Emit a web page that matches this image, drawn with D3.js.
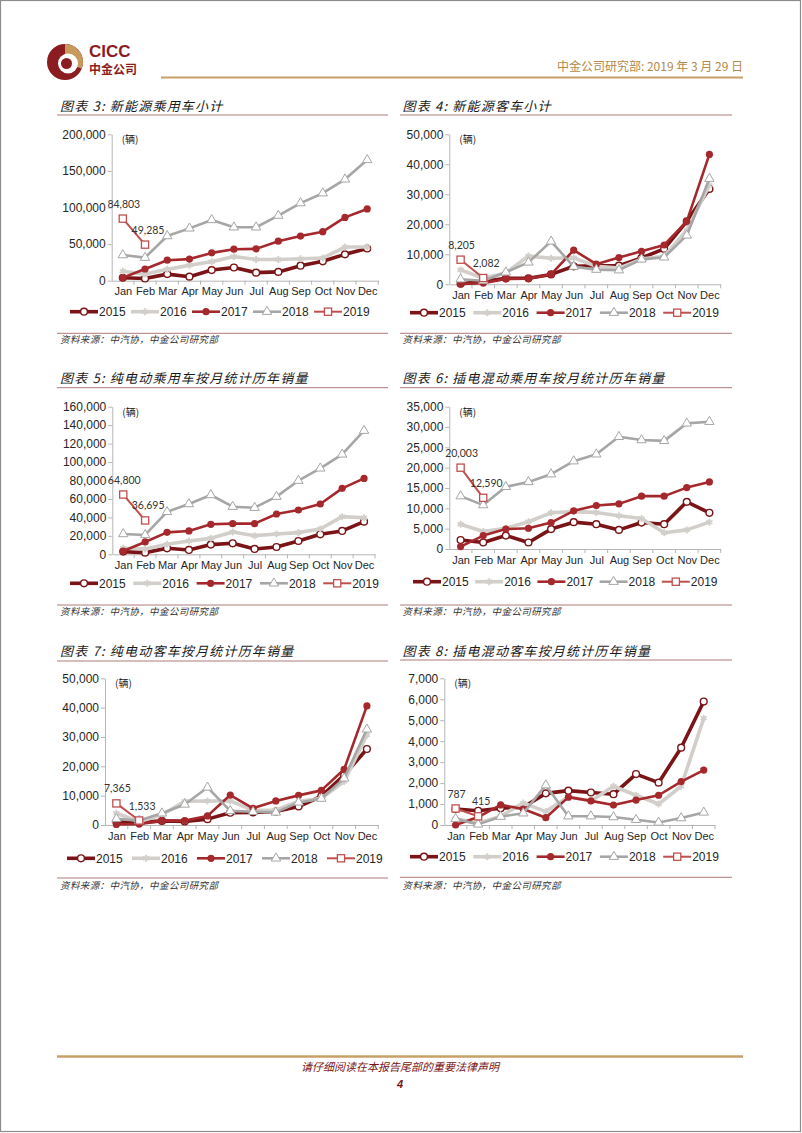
<!DOCTYPE html>
<html><head><meta charset="utf-8">
<script src="https://cdn.jsdelivr.net/npm/d3@7"></script>
<style>body{margin:0;background:#fff}svg{display:block}</style>
</head><body>
<svg id="page" width="802" height="1133"></svg>
<script>
const months = ["Jan","Feb","Mar","Apr","May","Jun","Jul","Aug","Sep","Oct","Nov","Dec"];
const years = ["2015","2016","2017","2018","2019"];

// 图表3 新能源乘用车小计
const c3Ticks = [0,50000,100000,150000,200000];
const c3_2015 = [4000,3000,9000,5500,14500,18000,11000,12000,20500,26500,36000,44000];
const c3_2016 = [13000,9000,15500,21000,26000,33000,29000,29000,30000,31000,46000,46000];
const c3_2017 = [4000,16000,28000,29500,38000,43000,43500,54000,61000,67000,86500,98000];
const c3_2018 = [35000,31500,61000,71500,83000,73000,73000,89000,106000,119500,138500,165000];
const c3_2019 = [84803,49285];

// 图表4 新能源客车小计
const c4Ticks = [0,10000,20000,30000,40000,50000];
const c4_2015 = [200,900,2000,2000,3300,6000,6200,6200,8800,11800,21000,31800];
const c4_2016 = [4800,2000,3800,9400,8700,8800,6000,5400,8400,9300,18000,33000];
const c4_2017 = [100,400,1800,1900,3300,11400,6700,8900,11000,13100,21000,43300];
const c4_2018 = [1700,1200,4000,7300,14300,5900,4900,4700,8300,9000,16300,35200];
const c4_2019 = [8205,2082];

// 图表5 纯电动乘用车
const c5Ticks = [0,20000,40000,60000,80000,100000,120000,140000,160000];
const c5_2015 = [2900,1800,6500,4700,10500,11900,5800,7900,14400,21700,25300,35400];
const c5_2016 = [6500,5800,10800,14400,17300,24200,20200,22000,23500,27400,40800,39700];
const c5_2017 = [3600,13400,23800,25300,32500,33200,33200,43700,48000,54500,71500,82300];
const c5_2018 = [22000,21000,46000,54500,64300,51600,50500,62500,79800,93200,108300,134000];
const c5_2019 = [64800,36695];

// 图表6 插电混动乘用车
const c6Ticks = [0,5000,10000,15000,20000,25000,30000,35000];
const c6_2015 = [2200,1600,3300,1600,4900,6600,6100,4700,6500,6100,11600,8900];
const c6_2016 = [6100,4300,5100,6700,8900,9200,9000,8200,7500,4000,4700,6600];
const c6_2017 = [600,3300,4900,5100,6500,9400,10700,11100,13000,13000,15100,16500];
const c6_2018 = [13000,10800,15300,16500,18400,21600,23300,27600,26800,26600,30900,31300];
const c6_2019 = [20003,12590];

// 图表7 纯电动客车
const c7Ticks = [0,10000,20000,30000,40000,50000];
const c7_2015 = [1100,800,1400,1200,2000,4200,4300,4600,6300,9800,17000,25900];
const c7_2016 = [4000,1100,3500,8100,8200,8200,5000,5100,8000,9100,14800,30700];
const c7_2017 = [200,300,1500,1500,3100,10200,5700,8200,10100,11800,19000,40600];
const c7_2018 = [2100,1500,4000,7000,12800,4800,4500,4300,7700,9000,15900,32600];
const c7_2019 = [7365,1533];

// 图表8 插电混动客车
const c8Ticks = [0,1000,2000,3000,4000,5000,6000,7000];
const c8_2015 = [760,680,800,850,1510,1640,1550,1470,2430,2020,3690,5890];
const c8_2016 = [300,80,420,1050,640,1350,1150,1850,1420,1000,1850,5090];
const c8_2017 = [0,380,960,760,350,1330,1150,950,1190,1420,2070,2620];
const c8_2018 = [300,30,400,560,1900,420,420,380,250,120,330,600];
const c8_2019 = [787,415];

const titles = ["图表 3: 新能源乘用车小计","图表 4: 新能源客车小计","图表 5: 纯电动乘用车按月统计历年销量",
  "图表 6: 插电混动乘用车按月统计历年销量","图表 7: 纯电动客车按月统计历年销量","图表 8: 插电混动客车按月统计历年销量"];
const sourceText = "资料来源：中汽协，中金公司研究部";

const colors = {"2015":"#7a1416","2016":"#d2cfca","2017":"#a5282c","2018":"#a6a6a6","2019":"#c0504d"};
const widths = {"2015":3.6,"2016":3.6,"2017":2.6,"2018":2.6,"2019":2};

const layouts = [
 {data:[c3_2015,c3_2016,c3_2017,c3_2018,c3_2019],ticks:c3Ticks,x0:111.7,x1:378.3,yTop:134.3,yBot:280.7,col:0,titleY:111,underY:115,legX:70,legP:61,legY:311.7,srcLY:333.3,srcY:343},
 {data:[c4_2015,c4_2016,c4_2017,c4_2018,c4_2019],ticks:c4Ticks,x0:449.3,x1:720.7,yTop:134.3,yBot:284.3,col:1,titleY:111,underY:115,legX:410,legP:63.3,legY:312.7,srcLY:333.3,srcY:343},
 {data:[c5_2015,c5_2016,c5_2017,c5_2018,c5_2019],ticks:c5Ticks,x0:112.3,x1:375,yTop:406.7,yBot:554.3,col:0,titleY:383,underY:387.7,legX:70,legP:63.3,legY:583.3,srcLY:605,srcY:614.5},
 {data:[c6_2015,c6_2016,c6_2017,c6_2018,c6_2019],ticks:c6Ticks,x0:449.3,x1:720.7,yTop:406.7,yBot:549,col:1,titleY:383,underY:387.7,legX:413,legP:62.2,legY:581.7,srcLY:605,srcY:614.5},
 {data:[c7_2015,c7_2016,c7_2017,c7_2018,c7_2019],ticks:c7Ticks,x0:105,x1:378.3,yTop:678.3,yBot:825,col:0,titleY:655.5,underY:661,legX:67,legP:65,legY:858.3,srcLY:878,srcY:889},
 {data:[c8_2015,c8_2016,c8_2017,c8_2018,c8_2019],ticks:c8Ticks,x0:444.3,x1:715,yTop:678.3,yBot:825,col:1,titleY:655.5,underY:660,legX:410,legP:63.3,legY:856.7,srcLY:877.3,srcY:889}
];
const colX = [{t:60,l0:57,l1:388},{t:402.5,l0:400,l1:732}];

const svg = d3.select("#page");
const CJK = "'Noto Sans CJK SC','Noto Sans',sans-serif";
const LAT = "'Liberation Sans',Arial,sans-serif";

// page frame
svg.append("rect").attr("x",0.5).attr("y",0.5).attr("width",800).attr("height",1131)
  .attr("fill","#fff").attr("stroke","#8c8c8c").attr("stroke-width",1.2);

// header logo
const logo = svg.append("g");
logo.append("circle").attr("cx",65).attr("cy",62).attr("r",18).attr("fill","#8b1c1f");
logo.append("path").attr("d",d3.arc()({innerRadius:0,outerRadius:18,startAngle:0,endAngle:Math.PI*0.62}))
  .attr("transform","translate(65,62)").attr("fill","#c99a5e");
logo.append("circle").attr("cx",68).attr("cy",63.5).attr("r",10).attr("fill","#fff");
logo.append("circle").attr("cx",66.5).attr("cy",63.5).attr("r",5.5).attr("fill","#8b1c1f");
svg.append("text").attr("x",89).attr("y",57).text("CICC")
  .attr("font-family",LAT).attr("font-weight","bold").attr("font-size",17).attr("fill","#8b1c1f");
svg.append("text").attr("x",89).attr("y",74).text("中金公司")
  .attr("font-family",CJK).attr("font-weight","bold").attr("font-size",12).attr("fill","#8b1c1f");
svg.append("line").attr("x1",161).attr("x2",743).attr("y1",77.5).attr("y2",77.5)
  .attr("stroke","#c7a068").attr("stroke-width",2);
svg.append("text").attr("x",743).attr("y",71).attr("text-anchor","end").text("中金公司研究部: 2019 年 3 月 29 日")
  .attr("font-family",CJK).attr("font-size",12).attr("fill","#b3884c");

// footer
svg.append("line").attr("x1",57).attr("x2",743).attr("y1",1056.5).attr("y2",1056.5)
  .attr("stroke","#c7a068").attr("stroke-width",2.5);
svg.append("text").attr("x",400).attr("y",1071).attr("text-anchor","middle").text("请仔细阅读在本报告尾部的重要法律声明")
  .attr("font-family",CJK).attr("font-style","italic").attr("font-size",11).attr("fill","#7a1416");
svg.append("text").attr("x",400).attr("y",1088).attr("text-anchor","middle").text("4")
  .attr("font-family",LAT).attr("font-style","italic").attr("font-weight","bold").attr("font-size",11).attr("fill","#7a1416");

function marker(sel, year){
  const c = colors[year];
  if(year==="2015") sel.append("circle").attr("r",3.4).attr("fill","#fff").attr("stroke",c).attr("stroke-width",1.4);
  else if(year==="2016") sel.append("path").attr("d",d3.symbol(d3.symbolAsterisk,34)()).attr("fill","none").attr("stroke",c).attr("stroke-width",1.8);
  else if(year==="2017") sel.append("circle").attr("r",3.6).attr("fill",c);
  else if(year==="2018") sel.append("path").attr("d",d3.symbol(d3.symbolTriangle,38)()).attr("fill","#fff").attr("stroke",c).attr("stroke-width",1);
  else sel.append("rect").attr("x",-3.6).attr("y",-3.6).attr("width",7.2).attr("height",7.2).attr("fill","#fff").attr("stroke",c).attr("stroke-width",1.3);
}

layouts.forEach((L,ci)=>{
  const C = colX[L.col];
  const g = svg.append("g");
  g.append("text").attr("x",C.t).attr("y",L.titleY).text(titles[ci])
    .attr("font-family",CJK).attr("font-style","italic").attr("font-size",13).attr("letter-spacing",1.2).attr("fill","#1a1a1a");
  g.append("line").attr("x1",C.l0).attr("x2",C.l1).attr("y1",L.underY).attr("y2",L.underY).attr("stroke","#b07a7a").attr("stroke-width",1);
  g.append("line").attr("x1",C.l0).attr("x2",C.l1).attr("y1",L.srcLY).attr("y2",L.srcLY).attr("stroke","#b07a7a").attr("stroke-width",1);
  g.append("text").attr("x",C.t).attr("y",L.srcY).text(sourceText)
    .attr("font-family",CJK).attr("font-style","italic").attr("font-size",9.5).attr("letter-spacing",0.4).attr("fill","#333");

  const x = d3.scalePoint().domain(months).range([L.x0,L.x1]).padding(0.5);
  const band = d3.scaleBand().domain(months).range([L.x0,L.x1]);
  const y = d3.scaleLinear().domain([0,d3.max(L.ticks)]).range([L.yBot,L.yTop]);

  const ya = g.append("g").attr("transform",`translate(${L.x0},0)`)
    .call(d3.axisLeft(y).tickValues(L.ticks).tickFormat(d3.format(",")).tickSizeInner(4).tickSizeOuter(0).tickPadding(2));
  ya.select(".domain").attr("stroke","#b5b5b5");
  ya.selectAll(".tick line").attr("stroke","#b5b5b5");
  ya.selectAll("text").attr("font-family",LAT).attr("font-size",12).attr("fill","#262626");
  const xa = g.append("g").attr("transform",`translate(0,${L.yBot})`)
    .call(d3.axisBottom(x).tickSize(0).tickPadding(7));
  xa.select(".domain").attr("stroke","#b5b5b5");
  xa.selectAll("text").attr("font-family",LAT).attr("font-size",11).attr("fill","#262626");
  g.append("g").selectAll("line").data(months.slice(1).concat(["_end"])).join("line")
    .attr("x1",d=>d==="_end"?L.x1:band(d)).attr("x2",d=>d==="_end"?L.x1:band(d))
    .attr("y1",L.yBot).attr("y2",L.yBot+4).attr("stroke","#b5b5b5");
  g.append("text").attr("x",L.x0+10).attr("y",L.yTop+9).text("(辆)")
    .attr("font-family",CJK).attr("font-size",10).attr("fill","#262626");

  years.forEach((yr,si)=>{
    const vals = L.data[si];
    const line = d3.line().x((d,i)=>x(months[i])).y(d=>y(d));
    g.append("path").attr("d",line(vals)).attr("fill","none").attr("stroke",colors[yr])
      .attr("stroke-width",widths[yr]).attr("stroke-linejoin","round");
    vals.forEach((v,i)=>{
      const m = g.append("g").attr("transform",`translate(${x(months[i])},${y(v)})`);
      marker(m, yr);
    });
    if(yr==="2019"){
      vals.forEach((v,i)=>{
        g.append("text").attr("x",x(months[i])+(i===0?1:3)).attr("y",y(v)-11).attr("text-anchor","middle")
          .text(d3.format(",")(v)).attr("font-family","Lato,'Open Sans',sans-serif").attr("font-size",10.5).attr("fill","#333");
      });
    }
  });

  years.forEach((yr,si)=>{
    const lx = L.legX + si*L.legP;
    const lg = g.append("g");
    lg.append("line").attr("x1",lx).attr("x2",lx+28).attr("y1",L.legY).attr("y2",L.legY)
      .attr("stroke",colors[yr]).attr("stroke-width",widths[yr]);
    const m = lg.append("g").attr("transform",`translate(${lx+14},${L.legY})`);
    marker(m, yr);
    lg.append("text").attr("x",lx+29).attr("y",L.legY+4.5).text(yr)
      .attr("font-family",LAT).attr("font-size",12).attr("fill","#262626");
  });
});
</script>
</body></html>
